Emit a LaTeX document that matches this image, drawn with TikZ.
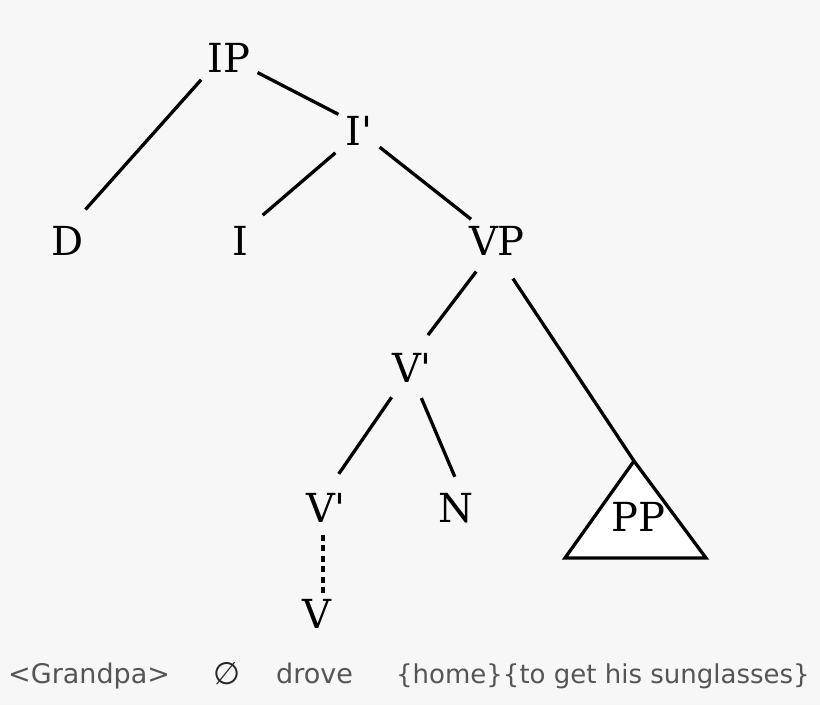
\documentclass[tikz,border=0pt]{standalone}
\usepackage{fontspec}
\setmainfont{DejaVu Serif}
\newfontfamily\glossfont{DejaVu Sans}
\usepackage{tikz}
\usetikzlibrary{positioning}
\definecolor{bgcol}{HTML}{F7F7F7}
\definecolor{glosscol}{HTML}{555555}
\newcommand{\barcat}[1]{#1\textquotesingle}
\tikzset{
    cat/.style={inner sep=7pt, font=\fontsize{40}{40}\selectfont},
    branch/.style={line width=3.3pt},
    trace/.style={line width=3.3pt, dash pattern=on 6pt off 4.5pt},
    gloss/.style={anchor=base west, inner sep=0pt, text=glosscol, font=\glossfont\fontsize{27}{27}\selectfont},
}

\begin{document}
\begin{tikzpicture}[x=1pt, y=-1pt]
    \fill[bgcol] (0,0) rectangle (820,705);
    \useasboundingbox (0,0) rectangle (820,705);

    \node[cat] (ip) at (229,58) {IP};
    \node[cat] (ibar) at (359,131) {\barcat{I}};
    \node[cat] (d) at (68,241) {D};
    \node[cat] (i) at (240,241) {I};
    \node[cat] (vp) at (497,241) {VP};
    \node[cat] (vbar) at (412,368) {\barcat{V}};
    \node[cat] (vbarlow) at (326,508) {\barcat{V}};
    \node[cat] (n) at (456,508) {N};
    \node[cat] (v) at (317,614) {V};

    \coordinate (pptop) at (634,461);
    \coordinate (ppleft) at (565,558);
    \coordinate (ppright) at (706,558);
    \filldraw[branch, fill=white, line join=miter] (pptop) -- (ppleft) -- (ppright) -- cycle;
    \node[cat] (pp) at (638,517) {PP};

    \draw[branch, shorten >=13pt] (ip.218) -- (d.68);
    \draw[branch] (ip.333) -- (ibar.141);
    \draw[branch, shorten <=4pt, shorten >=10pt] (ibar.223) -- (i.52);
    \draw[branch] (ibar.322) -- (vp.140);
    \draw[branch, shorten <=11pt, shorten >=14pt] (vp.237) -- (vbar.71);
    \draw[branch, shorten <=19pt] (vp.284) -- (pptop);
    \draw[branch, shorten <=9pt, shorten >=15pt] (vbar.235) -- (vbarlow.79);
    \draw[branch, shorten <=9pt, shorten >=10pt] (vbar.285) -- (n.83);
    \draw[trace, shorten <=5pt, shorten >=-4pt] ([xshift=-3pt]vbarlow.south) -- ([xshift=-3pt]vbarlow.south |- v.north);

    % words under the tree
    \node[gloss] (grandpa) at (8,683) {<Grandpa>};
    \node[gloss, text=black!85, font=\glossfont\fontsize{31}{31}\selectfont] (empty) at (213,684) {∅};
    \node[gloss] (drove) at (276,683) {drove};
    \node[gloss, font=\glossfont\fontsize{26}{26}\selectfont] (rest) at (396,683) {\{home\}\{to get his sunglasses\}};
\end{tikzpicture}
\end{document}
